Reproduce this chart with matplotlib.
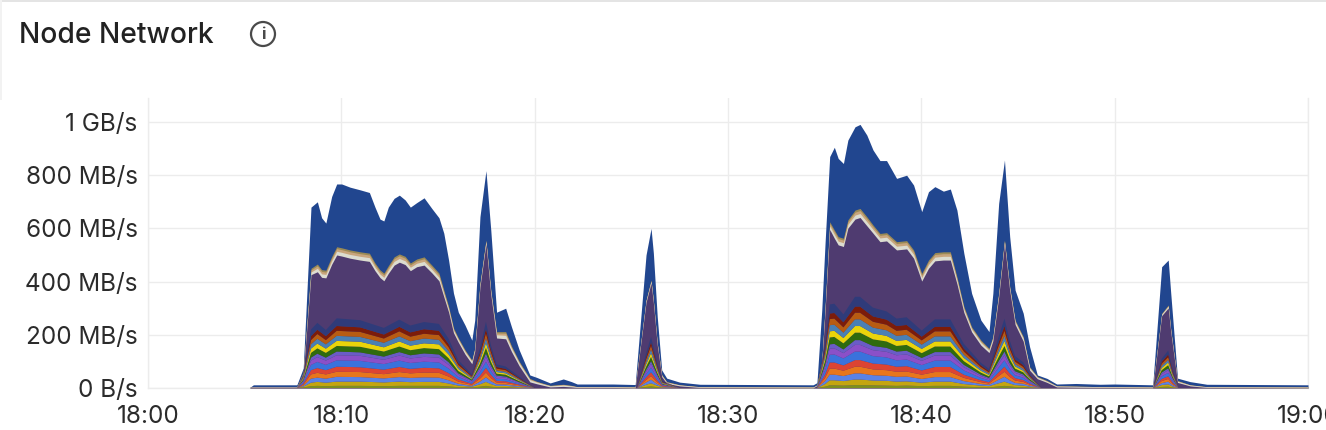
import matplotlib
matplotlib.use("Agg")
import matplotlib.pyplot as plt
from matplotlib.patches import Circle, Rectangle
import numpy as np

plt.rcParams['font.family'] = ['Inter', 'DejaVu Sans']

title_text = "Node Network"
x_ticks = [0, 10, 20, 30, 40, 50, 60]
x_labels = ["18:00", "18:10", "18:20", "18:30", "18:40", "18:50", "19:00"]
y_ticks = [0, 200, 400, 600, 800, 1000]
y_labels = ["0 B/s", "200 MB/s", "400 MB/s", "600 MB/s", "800 MB/s", "1 GB/s"]

# Outline readings (minutes after 18:00, MB/s)
t_upper = [5.28,5.45,7.7,8.03,8.43,8.76,8.98,9.2,9.5,9.76,
           10.02,10.45,10.97,11.45,11.74,12,12.2,12.43,12.73,13,
           13.3,13.57,13.9,14.28,14.68,15.05,15.3,15.55,15.8,16.05,
           16.4,16.75,16.9,17.17,17.48,17.73,18.03,18.5,18.8,19.2,
           19.75,20.1,20.8,21.48,21.9,22.2,24.06,25.2,25.76,26.02,
           26.14,26.34,26.57,26.83,27.5,28.55,34.4,34.6,34.85,35.02,
           35.26,35.5,35.7,35.97,36.2,36.57,36.83,37.18,37.5,37.86,
           38.2,38.72,39.24,39.6,40.02,40.37,40.7,41.14,41.5,41.84,
           42.2,42.6,43.08,43.5,43.7,44.0,44.3,44.57,44.85,45.27,
           45.6,46,46.5,47,48,49.25,50,51.97,52.43,52.77,
           52.9,53.25,53.9,54.77,60]
total_top = [3,12,12,75,680,700,640,620,720,767,
             767,755,745,735,680,635,628,680,713,725,
             707,680,697,715,675,640,582,480,357,285,
             236,180,255,644,817,594,285,300,230,143,
             49,40,19,34,24,15,15,13,500,600,
             507,268,68,37,22,14,12,20,293,544,
             870,905,863,844,932,982,991,951,895,855,
             855,788,800,763,663,738,757,740,748,669,
             506,356,255,212,356,694,857,569,368,281,
             155,49,36,15,17,14,15,12,456,481,
             357,37,24,14,12]
band_top = [3,4,4,60,450,466,445,443,494,531,
            527,519,512,507,470,444,432,460,493,504,
            495,470,485,493,462,432,368,306,226,188,
            143,105,150,394,556,368,212,212,158,100,
            36,25,10,14,10,5,5,4,330,406,
            330,170,50,24,12,5,4,12,100,300,
            625,594,569,563,632,669,675,644,613,581,
            584,550,554,519,431,481,509,512,512,418,
            306,230,180,149,193,356,556,381,255,193,
            80,43,28,8,7,5,5,4,280,312,
            220,28,12,5,4]
band_olive = [0,0,0,2,6,7,7,7,7,7,
              7,7,7,7,7,7,7,7,7,7,
              7,7,7,7,7,7,6,5,4,3,
              3,2,2,3,2,3,5,6,4,3,
              2,1,1,1,1,0,0,0,1,2,
              1,1,1,1,0,0,0,0,1,2,
              7,7,7,7,7,8,8,8,7,7,
              7,7,7,7,7,7,7,7,7,6,
              5,4,4,3,2,2,2,2,3,3,
              2,1,1,0,0,0,0,0,1,2,
              1,1,0,0,0]
band_tan = [0,0,0,2,8,9,9,9,9,10,
            10,10,10,10,9,9,9,9,10,10,
            10,9,9,10,9,9,8,6,5,4,
            4,3,3,4,4,4,7,8,5,4,
            3,2,1,2,1,1,1,1,2,3,
            2,2,2,2,1,1,1,1,2,3,
            9,10,10,10,10,11,11,11,10,10,
            10,10,10,10,9,10,10,10,10,8,
            6,5,5,4,4,4,4,4,4,4,
            3,2,2,1,1,1,1,1,2,3,
            2,2,1,1,1]
band_grey = [0,1,1,4,10,13,13,13,13,14,
             14,14,14,14,13,13,13,13,14,14,
             14,13,13,14,13,13,11,10,9,9,
             9,9,7,7,8,9,12,13,12,10,
             8,6,4,5,4,2,2,2,5,6,
             6,5,4,4,3,2,2,2,5,8,
             13,14,14,14,14,15,15,15,14,14,
             14,14,14,14,13,14,14,14,14,12,
             11,10,10,9,9,8,7,8,9,10,
             8,5,4,3,3,2,2,2,5,6,
             5,4,3,2,2]

# Lower stacked layers (MB/s)
t_lower = [7.7,8.03,8.43,8.76,9.2,9.76,10.97,12.2,13,13.57,14.28,15.05,15.55,16.05,16.75,17.17,17.48,17.73,18.03,18.5,19.2,20.0,
           25.3,25.76,26.02,26.34,26.6,27.5,
           34.6,35.02,35.26,35.5,35.97,36.57,36.83,37.5,38.2,38.72,39.24,40.02,40.7,41.5,42.2,43.08,43.5,44.0,44.3,44.57,44.85,45.27,45.6,46.2,
           52,52.43,52.77,53.0,53.3]
s_olive = [0,2,7,8,7,8,8,7,8,8,8,8,6,3,2,5,8,5,3,3,1,0,0,4,6,3,1,0,0,5,10,10,9,11,11,10,9,8,9,7,8,8,5,3,2,6,8,6,4,3,2,0,0,4,5,2,0]
s_gold = [0,3,13,15,13,16,16,14,16,14,15,15,11,6,3,9,15,10,5,5,3,0,0,8,12,6,2,0,0,10,19,19,17,21,21,18,18,16,16,13,16,16,10,6,5,12,16,11,7,6,3,0,0,7,9,4,0]
s_ltblue = [0,3,15,16,15,18,17,15,17,16,17,16,12,7,3,10,17,11,6,5,3,0,0,9,13,6,2,0,0,11,21,21,19,23,23,20,19,18,18,14,17,17,11,6,5,13,18,12,8,7,4,0,0,7,10,5,0]
s_orange = [0,4,16,18,16,19,19,16,19,17,18,18,14,8,4,11,18,12,7,6,3,0,0,9,14,7,2,0,0,12,23,23,20,25,25,22,21,19,19,16,19,19,12,7,5,14,19,13,9,7,4,0,0,8,10,5,0]
s_red = [0,4,16,18,16,19,18,17,19,17,18,17,13,8,4,11,18,12,6,6,3,0,0,10,14,7,2,0,0,12,23,23,20,25,25,22,21,19,20,16,19,19,12,7,5,14,19,13,9,7,4,0,0,8,10,5,0]
s_blue = [0,5,20,23,20,24,24,21,24,22,23,22,17,10,5,14,23,15,8,8,4,0,0,12,18,9,2,0,0,16,29,30,26,32,32,28,27,24,25,20,24,24,16,9,7,18,24,17,11,9,5,0,0,10,13,7,0]
s_purple = [0,4,16,18,16,19,19,16,19,17,18,18,14,8,4,11,18,12,7,6,3,0,0,9,14,7,2,0,0,12,23,23,20,25,25,22,21,19,19,16,19,19,12,7,5,14,19,13,9,7,4,0,0,8,10,5,0]
s_slate = [0,3,11,13,11,14,13,12,13,12,13,12,10,5,3,8,13,9,5,4,2,0,0,7,10,5,1,0,0,9,16,17,14,18,18,16,15,14,14,11,13,13,9,5,4,10,14,9,6,5,3,0,0,6,7,4,0]
s_green = [0,4,18,20,18,21,21,19,21,19,20,20,15,9,4,12,21,14,7,7,4,0,0,11,16,8,2,0,0,14,26,26,23,28,28,25,24,21,22,18,21,21,14,8,6,16,21,15,10,8,5,0,0,9,12,6,0]
s_yellow = [0,4,16,18,16,19,19,16,19,17,18,18,14,8,3,11,18,12,6,5,3,0,0,9,14,7,2,0,0,12,23,23,20,25,25,22,21,19,19,16,19,19,12,7,5,14,19,13,8,6,3,0,0,8,10,5,0]
s_steel = [0,4,16,18,16,19,18,17,19,17,18,17,13,7,4,11,18,12,6,6,3,0,0,9,14,7,2,0,0,12,23,23,20,25,25,22,21,19,19,16,19,19,12,7,5,14,19,13,9,7,4,0,0,8,10,5,0]
s_brown = [0,4,16,18,16,19,19,16,19,17,18,18,14,8,4,11,18,12,7,6,3,0,0,10,14,7,2,0,0,12,23,23,20,25,25,22,21,19,19,16,19,19,12,7,5,14,19,13,9,7,4,0,0,8,10,5,0]
s_dred = [0,3,15,16,15,18,17,15,17,16,17,16,12,7,3,10,17,11,6,5,3,0,0,9,13,6,2,0,0,11,21,21,19,23,23,20,19,18,18,14,17,17,11,6,5,13,18,12,8,7,4,0,0,7,10,5,0]
s_navy = [0,5,25,26,23,29,27,25,27,26,27,26,20,11,6,16,27,17,10,9,5,0,0,14,20,10,3,0,0,18,34,35,30,37,37,33,31,28,29,23,28,28,18,10,8,21,28,20,13,11,6,0,0,12,15,8,0]

lower_series = [s_olive, s_gold, s_ltblue, s_orange, s_red, s_blue, s_purple,
                s_slate, s_green, s_yellow, s_steel, s_brown, s_dred, s_navy]
lower_colors = ['#7d8f1e', '#c4a510', '#5a82e6', '#e8761c', '#dc4433', '#3a72dc', '#8a50c8',
                '#6a5cc6', '#2f6b0e', '#ead40a', '#4a80b4', '#b85c12', '#7c1c0a', '#2f3b7a']

W, H = 1326, 430
fig = plt.figure(figsize=(W / 100, H / 100), dpi=100, facecolor='white')
L, R, T, B = 148, 1308, 98, 388
ax = fig.add_axes([L / W, 1 - B / H, (R - L) / W, (B - T) / H])
ax.set_xlim(0, 60)
ax.set_ylim(0, 290 / 0.266)

tu = np.array(t_upper, float)
top = np.array(total_top, float)
bt = np.array(band_top, float)
ol = np.array(band_olive, float)
ta = np.array(band_tan, float)
gr = np.array(band_grey, float)
kw = dict(linewidth=0, clip_on=False)
ax.fill_between(tu, 0, top, color='#21468f', zorder=3, **kw)
ax.fill_between(tu, 0, bt, color='#9a8a55', zorder=3.1, **kw)
ax.fill_between(tu, 0, bt - ol, color='#c9a57c', zorder=3.2, **kw)
ax.fill_between(tu, 0, bt - ol - ta, color='#dcdcd0', zorder=3.3, **kw)
ax.fill_between(tu, 0, np.maximum(bt - ol - ta - gr, 0), color='#4f3b70', zorder=3.4, **kw)
ax.stackplot(t_lower, *lower_series, colors=lower_colors, linewidth=0, zorder=4)

ax.set_xticks(x_ticks, x_labels)
ax.set_yticks(y_ticks, y_labels)
ax.grid(True, color='#ececec', linewidth=1)
ax.set_axisbelow(True)
ax.tick_params(length=0, labelsize=17.5, labelcolor='#2b2b2b')
ax.tick_params(axis='x', pad=12)
ax.tick_params(axis='y', pad=7.5)
for s in ax.spines.values():
    s.set_color('#ececec')
    s.set_linewidth(1)
ax.spines['top'].set_visible(False)

ov = fig.add_axes([0, 0, 1, 1], zorder=-1)
ov.set_xlim(0, W)
ov.set_ylim(H, 0)
ov.axis('off')
ov.add_patch(Rectangle((0, 0), W, 2, color='#e4e4e4', linewidth=0))
ov.add_patch(Rectangle((0, 0), 2, 100, color='#f2f2f2', linewidth=0))
ov.text(19, 35.5, title_text, fontsize=20.3, fontweight='medium', color='#222222', ha='left', va='center')
ov.add_patch(Circle((263, 34), 12, facecolor='white', edgecolor='#4a4a4a', linewidth=1.6))
ov.text(263, 34.5, "i", fontsize=12, fontweight='bold', color='#4a4a4a', ha='center', va='center')

fig.savefig('out.png', dpi=100, facecolor='white')
